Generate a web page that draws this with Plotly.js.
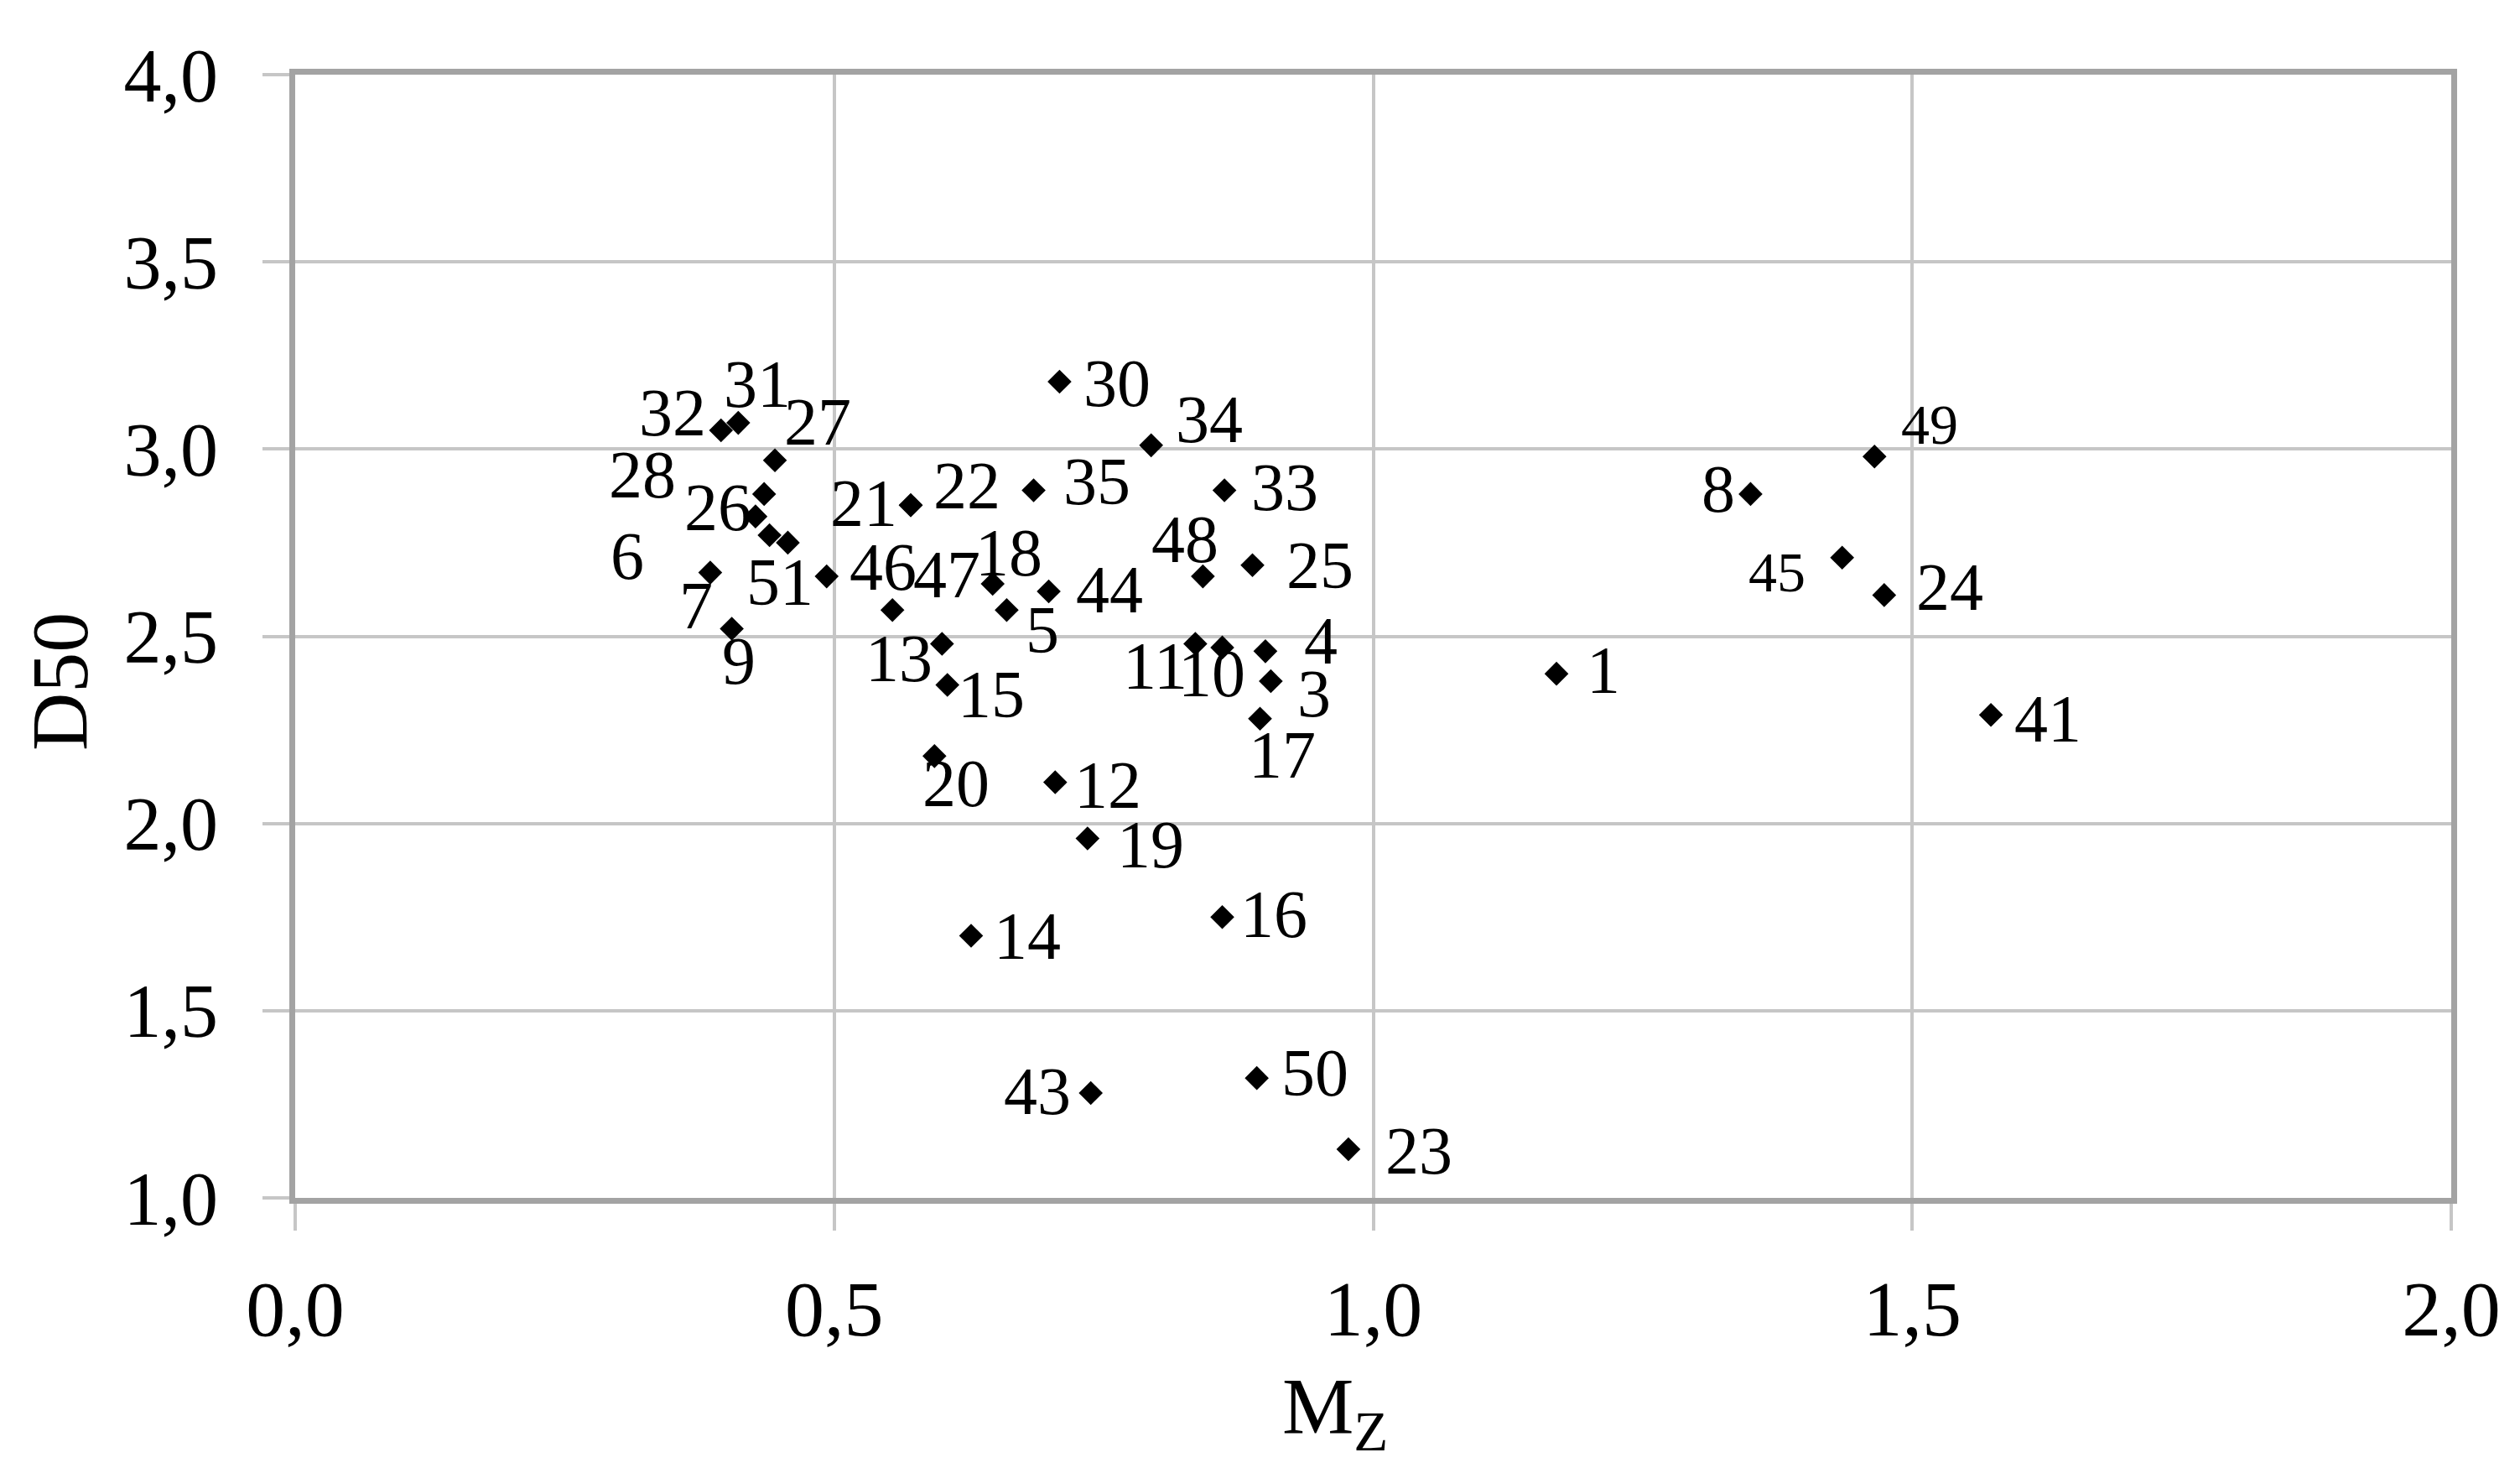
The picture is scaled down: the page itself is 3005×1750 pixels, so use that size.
<!DOCTYPE html>
<html>
<head>
<meta charset="utf-8">
<script src="https://cdn.plot.ly/plotly-3.0.1.min.js"></script>
<style>
  html, body { margin: 0; padding: 0; background: #ffffff; }
  #chart { width: 3005px; height: 1750px; }
</style>
</head>
<body>
<div id="chart"></div>
<script>
const sampleLabels = [1, 3, 4, 5, 6, 7, 8, 9, 10, 11, 12, 13, 14, 15, 16, 17, 18, 19, 20,
  21, 22, 23, 24, 25, 26, 27, 28, 30, 31, 32, 33, 34, 35, 41, 43, 44, 45, 46, 47, 48, 49, 50, 51];
const mzValues = [1.17, 0.905, 0.90, 0.66, 0.44, 0.385, 1.35, 0.405, 0.86, 0.835, 0.705, 0.60, 0.627, 0.605, 0.86, 0.895, 0.647, 0.735, 0.593,
  0.571, 0.571, 0.977, 1.474, 0.888, 0.427, 0.445, 0.435, 0.709, 0.411, 0.395, 0.862, 0.794, 0.685, 1.573, 0.738, 0.699, 1.435, 0.493, 0.554, 0.842, 1.465, 0.892, 0.457];
const d50Values = [2.40, 2.38, 2.46, 2.57, 2.77, 2.67, 2.88, 2.52, 2.47, 2.48, 2.11, 2.48, 1.70, 2.37, 1.75, 2.28, 2.64, 1.96, 2.18,
  2.85, 2.85, 1.13, 2.61, 2.69, 2.82, 2.97, 2.88, 3.18, 3.07, 3.05, 2.89, 3.01, 2.89, 2.29, 1.28, 2.62, 2.71, 2.66, 2.57, 2.66, 2.98, 1.32, 2.75];
const xTicks = [0, 0.5, 1.0, 1.5, 2.0];
const yTicks = [1.0, 1.5, 2.0, 2.5, 3.0, 3.5, 4.0];
const xTitle = 'M<sub>Z</sub>';
const yTitle = 'D50';

// placement of the data labels relative to their points (screen pixels, right / down)
const labelDx = [56, 52, 66, 43, -170, -17, -38, 8, -13, -48, 63, -51, 67, 52, 61, 26, 19, 75, 26,
  -56, 67, 84, 78, 80, -45, 51, -145, 69, 23, -58, 72, 69, 75, 68, -64, 72, -78, 67, 65, -21, 66, 69, -9];
const labelDy = [-4, 15, -12, 24, 25, 39, -6, 38, 31, 27, 3, 18, 0, 11, -3, 43, -37, 7, 33,
  -2, -23, 2, -9, 0, -11, -46, -23, 2, -46, -21, -3, -31, -10, 5, -2, -2, 17, -11, -42, -44, -38, -6, 47];
const smallLabelSet = [45, 49];

const FONT = '"Liberation Serif", "Times New Roman", serif';

const annotations = sampleLabels.map((lab, i) => ({
  x: mzValues[i], y: d50Values[i], xref: 'x', yref: 'y',
  text: String(lab), showarrow: false,
  xshift: labelDx[i], yshift: -labelDy[i],
  xanchor: 'center', yanchor: 'middle',
  font: { family: FONT, size: smallLabelSet.includes(lab) ? 68 : 80, color: '#000000' }
}));

// axis titles drawn as annotations so they sit where the reference has them
annotations.push({
  xref: 'paper', yref: 'paper', x: 0.4823, y: 0, xanchor: 'center', yanchor: 'top',
  yshift: -193, text: xTitle, showarrow: false,
  font: { family: FONT, size: 96, color: '#000000' }
});
annotations.push({
  xref: 'paper', yref: 'paper', x: -0.1093, y: 0.46, xanchor: 'center', yanchor: 'middle',
  textangle: -90, text: yTitle, showarrow: false,
  font: { family: FONT, size: 96, color: '#000000' }
});

const trace = {
  type: 'scatter', mode: 'markers',
  x: mzValues, y: d50Values, text: sampleLabels.map(String),
  marker: { symbol: 'diamond', size: 22, color: '#000000', line: { width: 0 } },
  hoverinfo: 'x+y+text', cliponaxis: false
};

const axisCommon = {
  showgrid: true, gridcolor: '#c6c6c6', gridwidth: 4,
  zeroline: false, showline: true, linecolor: '#a3a3a3', linewidth: 7, mirror: true,
  ticks: 'outside', ticklen: 32, tickwidth: 4, tickcolor: '#c6c6c6',
  tickformat: '.1f', tickmode: 'array'
};

const layout = {
  width: 3005, height: 1750,
  margin: { l: 352, r: 82, t: 89, b: 322 },
  paper_bgcolor: '#ffffff', plot_bgcolor: '#ffffff',
  separators: ',.', showlegend: false,
  font: { family: FONT, color: '#000000' },
  xaxis: Object.assign({}, axisCommon, {
    range: [0, 2], tickvals: xTicks, ticklabelstandoff: 12,
    tickfont: { family: FONT, size: 94, color: '#000000' }
  }),
  yaxis: Object.assign({}, axisCommon, {
    range: [1, 4], tickvals: yTicks, ticklabelstandoff: 35,
    tickfont: { family: FONT, size: 90, color: '#000000' }
  }),
  annotations: annotations
};

Plotly.newPlot('chart', [trace], layout, { displayModeBar: false, responsive: false });
</script>
</body>
</html>
